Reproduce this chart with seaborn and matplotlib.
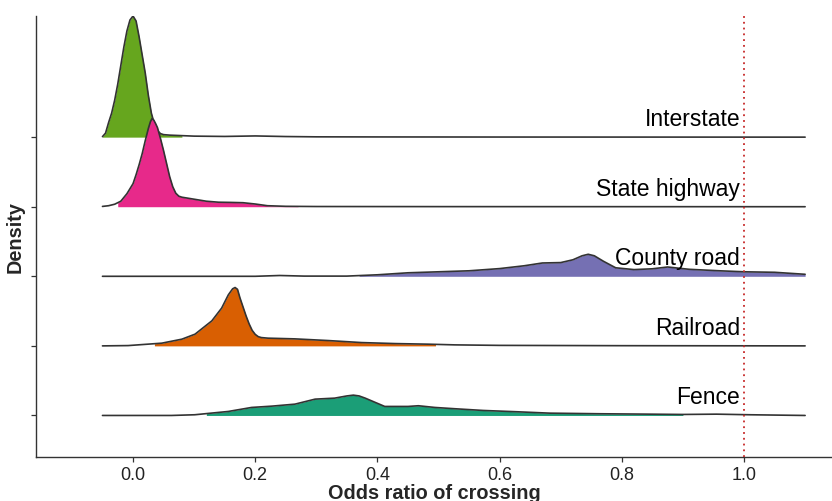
import numpy as np
import pandas as pd
import seaborn as sns
import matplotlib
matplotlib.use("Agg")
import matplotlib.pyplot as plt

# ---------------- data ----------------
categories = ["Fence", "Railroad", "County road", "State highway", "Interstate"]
colors = ["#1B9E77", "#D95F02", "#7570B3", "#E7298A", "#66A61E"]

# density curves (relative heights) per barrier type
interstate_x = [-0.05, -0.045, -0.04, -0.035, -0.03, -0.025, -0.02, -0.015, -0.01, -0.005,
                0.0, 0.005, 0.01, 0.015, 0.02, 0.025, 0.03, 0.035, 0.04, 0.045, 0.05,
                0.06, 0.08, 0.1, 0.15, 0.2, 0.25, 0.3, 0.4, 0.6, 1.1]
interstate_d = [0.5, 4, 14.5, 24, 37, 53, 71.5, 90, 106, 117,
                121, 116, 100, 82, 64, 42, 24, 13, 6.5, 3.5, 2.5,
                2, 1.5, 1.0, 0.7, 1.2, 0.6, 0.3, 0.2, 0.1, 0.0]

highway_x = [-0.05, -0.04, -0.03, -0.02, -0.01, 0.0, 0.005, 0.01, 0.015, 0.02, 0.025,
             0.0285, 0.031, 0.034, 0.037, 0.04, 0.045, 0.05, 0.055, 0.06, 0.065, 0.07,
             0.075, 0.08, 0.09, 0.1, 0.12, 0.14, 0.16, 0.18, 0.2, 0.22, 0.25, 0.3, 0.5, 1.1]
highway_d = [0.3, 1, 2.5, 5.5, 13, 23, 32, 42, 53, 66, 78,
             85, 88, 86.5, 83, 79, 68, 56, 43, 30, 20, 13.5,
             10.5, 9.5, 8.5, 7.5, 5.5, 4.5, 4.3, 4.0, 2.7, 1.0, 0.4, 0.2, 0.1, 0.0]

county_x = [-0.05, 0.2, 0.24, 0.28, 0.35, 0.4, 0.45, 0.5, 0.55, 0.6, 0.64, 0.67, 0.7,
            0.72, 0.735, 0.745, 0.755, 0.77, 0.79, 0.82, 0.85, 0.875, 0.91, 0.96, 1.0,
            1.05, 1.1]
county_d = [0, 0, 0.8, 0.2, 0.2, 1.5, 3.5, 4.5, 5.5, 7.7, 10.5, 13.3, 13.7,
            16.5, 20.5, 22, 20.5, 15, 8.5, 6.7, 7.5, 9.3, 7, 5.5, 4.5,
            4, 2]

railroad_x = [-0.05, -0.008, 0.047, 0.08, 0.1015, 0.129, 0.145, 0.156, 0.163, 0.167,
              0.171, 0.175, 0.18, 0.185, 0.19, 0.195, 0.2, 0.205, 0.21, 0.221, 0.265,
              0.32, 0.374, 0.429, 0.483, 0.527, 0.6, 0.8, 1.1]
railroad_d = [0, 0.3, 2.7, 6.7, 11.7, 25, 37.7, 51, 57, 58.3,
              56.5, 48, 39, 30, 22, 15.5, 11.5, 9.2, 8.3, 7.7, 7,
              5.3, 3.3, 2.3, 1.7, 1.0, 0.5, 0.2, 0.0]

fence_x = [-0.05, 0.063, 0.101, 0.156, 0.194, 0.227, 0.265, 0.298, 0.33, 0.35, 0.3606,
           0.37, 0.38, 0.412, 0.45, 0.467, 0.494, 0.527, 0.573, 0.628, 0.682, 0.764,
           0.846, 0.9, 0.955, 1.01, 1.1]
fence_d = [0, 0, 0.7, 4, 8, 9.3, 11.3, 16.3, 17.3, 19.5, 20.3,
           19.5, 17.3, 9, 9, 9.7, 8, 6.7, 5, 3.7, 2.3, 1.7,
           1.3, 1.0, 1.3, 0.7, 0.0]

# shaded interval (lower, upper) of each distribution
fill_lo = [0.12, 0.035, 0.37, -0.025, -0.05]
fill_hi = [0.90, 0.495, 1.10, 0.27, 0.08]

reference_line = 1.0
xticks = [0.0, 0.2, 0.4, 0.6, 0.8, 1.0]
xlabel = "Odds ratio of crossing"
ylabel = "Density"

curves = {
    "Fence": (fence_x, fence_d),
    "Railroad": (railroad_x, railroad_d),
    "County road": (county_x, county_d),
    "State highway": (highway_x, highway_d),
    "Interstate": (interstate_x, interstate_d),
}

# ---------------- plotting ----------------
sns.set_theme(style="white")
plt.rcParams["font.family"] = ["Liberation Sans", "DejaVu Sans"]

fig = plt.figure(figsize=(8.32, 5.02), dpi=100)
ax = fig.add_axes([36 / 832, 44 / 502, 796 / 832, 441 / 502])

scale = 1 / 69.5  # relative height -> ridge spacing units

rows = []
for i, cat in enumerate(categories):
    xs, ds = curves[cat]
    for x, d in zip(xs, ds):
        rows.append({"category": cat, "x": x, "y": i + d * scale, "base": i})
df = pd.DataFrame(rows)

n = len(categories)
for i in range(n - 1, -1, -1):  # top ridge first, lower ridges drawn over
    cat = categories[i]
    sub = df[df["category"] == cat]
    z = 10 + (n - i) * 2
    xs = sub["x"].to_numpy()
    ys = sub["y"].to_numpy()
    lo, hi = fill_lo[i], fill_hi[i]
    m = (xs >= lo) & (xs <= hi)
    xf = np.concatenate([[lo], xs[m], [hi]])
    yf = np.concatenate([[np.interp(lo, xs, ys)], ys[m], [np.interp(hi, xs, ys)]])
    ax.fill_between(xf, i, yf, color=colors[i], lw=0, zorder=z)
    sns.lineplot(data=sub, x="x", y="y", color="#333333", lw=1.2,
                 ax=ax, zorder=z + 1, sort=False, estimator=None)
    ax.text(0.9935, i + 0.175, cat, ha="right", va="baseline",
            fontsize=16.5, color="black", zorder=40)

ax.axvline(reference_line, color="#C62828", ls=(0, (1, 2.2)), lw=1.3, zorder=50)

ax.set_xlim(-0.1588, 1.144)
ax.set_ylim(-0.597, 4 + 121 / 69.5)
ax.set_xticks(xticks)
ax.set_xticklabels([f"{t:.1f}" for t in xticks])
ax.set_yticks(range(n))
ax.set_yticklabels([])

for s in ["top", "right"]:
    ax.spines[s].set_visible(False)
for s in ["left", "bottom"]:
    ax.spines[s].set_color("#333333")
    ax.spines[s].set_linewidth(1.0)

ax.tick_params(axis="both", which="both", direction="out", length=3.5, width=0.9,
               color="#333333", left=True, bottom=True)
ax.tick_params(axis="x", labelsize=13, labelcolor="#222222", pad=3)

ax.set_xlabel(xlabel, fontsize=14.3, fontweight="bold", labelpad=0)
ax.set_ylabel(ylabel, fontsize=14.3, fontweight="bold", labelpad=1.5)

fig.savefig("out.png", dpi=100)
